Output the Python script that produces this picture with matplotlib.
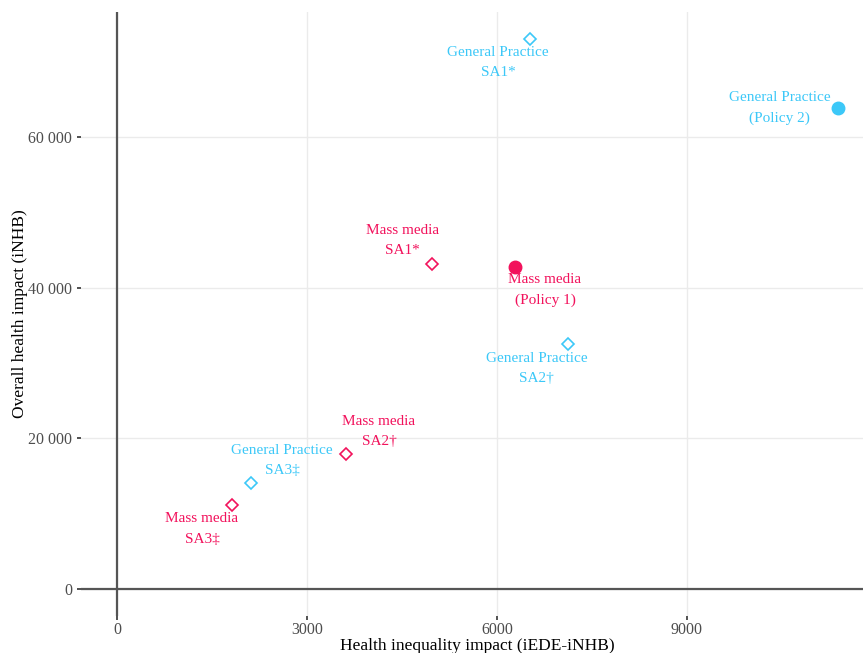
import matplotlib
matplotlib.use("Agg")
import matplotlib.pyplot as plt
from matplotlib.ticker import FuncFormatter

# Data
labels = ["General Practice\nSA1*", "General Practice\n(Policy 2)",
          "Mass media\nSA1*", "Mass media\n(Policy 1)",
          "General Practice\nSA2\u2020", "Mass media\nSA2\u2020",
          "General Practice\nSA3\u2021", "Mass media\nSA3\u2021"]
groups = ["gp", "gp", "mm", "mm", "gp", "mm", "gp", "mm"]
is_policy = [False, True, False, True, False, False, False, False]
inequality = [6520, 11385, 4975, 6285, 7120, 3615, 2115, 1815]
health = [73040, 63950, 43210, 42810, 32510, 17930, 14050, 11100]

x_ticks = [0, 3000, 6000, 9000]
y_ticks = [0, 20000, 40000, 60000]

# label offsets in pixels (repel-style placement)
label_offsets = [(-32, -23), (-58, 0), (-30, 23), (30, -23.5),
                 (-31, -24), (33, 22), (31, 22.5), (-30, -24)]

colors = {"gp": "#3CC8F8", "mm": "#F2125C"}

plt.rcParams["font.family"] = ["Liberation Serif", "DejaVu Serif"]

fig = plt.figure(figsize=(8.63, 6.53), dpi=100)
ax = fig.add_axes([81 / 863, 37 / 653, 793 / 863, 604 / 653])

ax.set_xlim(-570, 11955)
ax.set_ylim(-3652, 76692)

for s in ax.spines.values():
    s.set_visible(False)
ax.grid(True, color="#ebebeb", linewidth=1.0)
ax.set_axisbelow(True)

ax.axhline(0, color="#555555", linewidth=1.6, zorder=2)
ax.axvline(0, color="#555555", linewidth=1.6, zorder=2)

for x, y, g, pol, lab, off in zip(inequality, health, groups, is_policy, labels, label_offsets):
    c = colors[g]
    if pol:
        ax.plot(x, y, marker="o", ms=9, color=c, linestyle="none", zorder=3)
    else:
        ax.plot(x, y, marker="D", ms=6.5, mfc="none", mec=c, mew=1.2,
                linestyle="none", zorder=3)
    ax.annotate(lab, (x, y), xytext=off, textcoords="offset pixels",
                ha="center", va="center", color=c, fontsize=11,
                linespacing=1.72, zorder=4)

ax.set_xticks(x_ticks)
ax.set_yticks(y_ticks)
ax.yaxis.set_major_formatter(FuncFormatter(lambda v, p: f"{int(v):,}".replace(",", " ")))
ax.tick_params(axis="both", colors="#333333", labelcolor="#4d4d4d",
               labelsize=11.5, length=3, width=1.2)
ax.tick_params(axis="x", pad=1.5)

ax.set_xlabel("Health inequality impact (iEDE-iNHB)", fontsize=12.5, labelpad=0)
ax.set_ylabel("Overall health impact (iNHB)", fontsize=12.5, labelpad=0)

fig.savefig("out.png", dpi=100)
